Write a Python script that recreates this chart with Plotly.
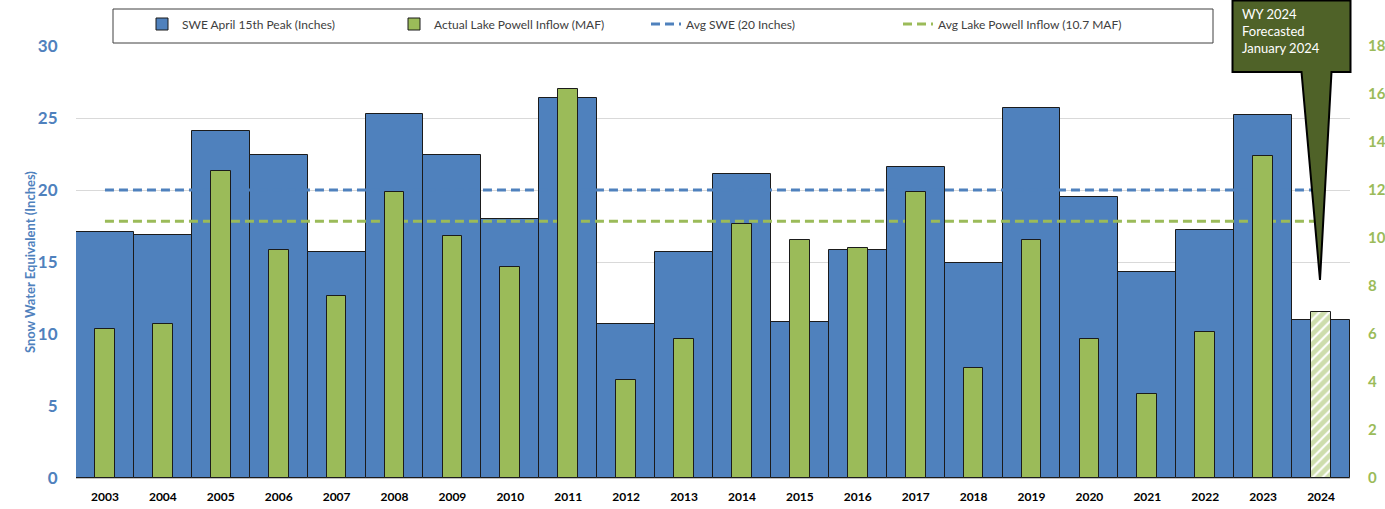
import plotly.graph_objects as go

years = [str(y) for y in range(2003, 2025)]
swe_peak = [17.1, 16.9, 24.1, 22.4, 15.7, 25.3, 22.4, 18.0, 26.4, 10.7, 15.7,
            21.1, 10.8, 15.8, 21.6, 14.9, 25.7, 19.5, 14.3, 17.2, 25.2, 11.0]
inflow = [6.2, 6.4, 12.8, 9.5, 7.6, 11.9, 10.1, 8.8, 16.2, 4.1, 5.8,
          10.6, 9.9, 9.6, 11.9, 4.6, 9.9, 5.8, 3.5, 6.1, 13.4, 6.9]
forecast = [False] * 21 + [True]
avg_swe = 20
avg_inflow = 10.7

BLUE = "#4F81BD"
GREEN = "#9BBB59"
OLIVE = "#4F6228"
FONT = "Lato"

fig = go.Figure()

fig.add_trace(go.Bar(
    x=years, y=swe_peak, name="SWE April 15th Peak (Inches)",
    marker=dict(color=BLUE, line=dict(color="#1b1b1b", width=1)),
    width=1.0, yaxis="y", legendrank=1,
))
fig.add_trace(go.Scatter(
    x=years, y=[avg_swe] * len(years), name="Avg SWE (20 Inches)", mode="lines",
    line=dict(color=BLUE, width=3, dash="9px,5px"), yaxis="y", legendrank=3,
))
fig.add_trace(go.Scatter(
    x=years, y=[avg_inflow] * len(years), name="Avg Lake Powell Inflow (10.7 MAF)", mode="lines",
    line=dict(color=GREEN, width=3, dash="9px,5px"), yaxis="y2", legendrank=4,
))
fig.add_trace(go.Bar(
    x=years, y=inflow, name="Actual Lake Powell Inflow (MAF)",
    marker=dict(
        color=GREEN,
        line=dict(color="#1b1b1b", width=1),
        pattern=dict(
            shape=["/" if f else "" for f in forecast],
            fgcolor=GREEN,
            bgcolor=["white" if f else GREEN for f in forecast],
            size=7, solidity=0.7,
        ),
    ),
    width=0.34, yaxis="y3", legendrank=2,
))

# plot-area geometry helpers (pixels -> paper)
L, R, T, B = 76, 35, 46, 31
W, H = 1385, 509
pw, ph = W - L - R, H - T - B


def px(xp):
    return (xp - L) / pw


def py(yp):
    return (H - B - yp) / ph


# legend frame
fig.add_shape(type="rect", xref="paper", yref="paper",
              x0=px(113), x1=px(1213), y0=py(43), y1=py(9),
              line=dict(color="#404040", width=1), fillcolor="white", layer="below")

# callout
bx0, bx1, by0, by1 = px(1232.5), px(1350.5), py(0.5), py(72)
tl, tr, ax_, ay_ = px(1301.5), px(1331.5), px(1320), py(280)
path = (f"M{bx0},{by0} L{bx1},{by0} L{bx1},{by1} L{tr},{by1} L{ax_},{ay_} "
        f"L{tl},{by1} L{bx0},{by1} Z")
fig.add_shape(type="path", xref="paper", yref="paper", path=path,
              fillcolor=OLIVE, line=dict(color="black", width=2), layer="above")
fig.add_annotation(xref="paper", yref="paper", x=px(1240), y=py(4),
                   xanchor="left", yanchor="top", align="left", showarrow=False,
                   text="WY 2024<br>Forecasted<br>January 2024",
                   font=dict(family=FONT, size=13, color="white"))

# left axis title
fig.add_annotation(xref="paper", yref="paper", x=px(30), y=py(262),
                   xanchor="center", yanchor="middle", textangle=-90, showarrow=False,
                   text="Snow Water Equivalent (Inches)",
                   font=dict(family=FONT, size=13, color=BLUE, weight="bold"))

fig.update_layout(
    width=W, height=H,
    margin=dict(l=L, r=R, t=T, b=B, autoexpand=False),
    paper_bgcolor="white", plot_bgcolor="white",
    barmode="overlay",
    bargap=0,
    font=dict(family=FONT, color="#404040"),
    showlegend=True,
    legend=dict(orientation="h", x=px(142), y=py(9.5), xanchor="left", yanchor="top",
                bgcolor="rgba(0,0,0,0)", borderwidth=0,
                font=dict(family=FONT, size=12, color="#404040"),
                entrywidth=207, entrywidthmode="pixels", traceorder="normal"),
    xaxis=dict(type="category", range=[-0.5, 21.5], showgrid=False,
               showline=True, linecolor="#BFBFBF", linewidth=1,
               ticks="outside", ticklen=8, tickcolor="rgba(0,0,0,0)",
               tickfont=dict(family=FONT, size=12, color="black", weight="bold")),
    yaxis=dict(range=[0, 30], tickvals=[0, 5, 10, 15, 20, 25, 30],
               showgrid=True, gridcolor="#D9D9D9", gridwidth=1, zeroline=False,
               ticks="outside", ticklen=14, tickcolor="rgba(0,0,0,0)",
               tickfont=dict(family=FONT, size=17, color=BLUE, weight="bold")),
    yaxis2=dict(range=[0, 18], tickvals=list(range(0, 19, 2)), overlaying="y", side="right",
                showgrid=False, zeroline=False,
                ticks="outside", ticklen=14, tickcolor="rgba(0,0,0,0)",
                tickfont=dict(family=FONT, size=15, color=GREEN, weight="bold")),
    yaxis3=dict(range=[0, 18], overlaying="y", side="right", visible=False,
                showgrid=False, zeroline=False),
)

fig.write_html("out.html", config={"displayModeBar": False},
               post_script="document.body.style.margin='0';document.body.style.overflow='hidden';")
